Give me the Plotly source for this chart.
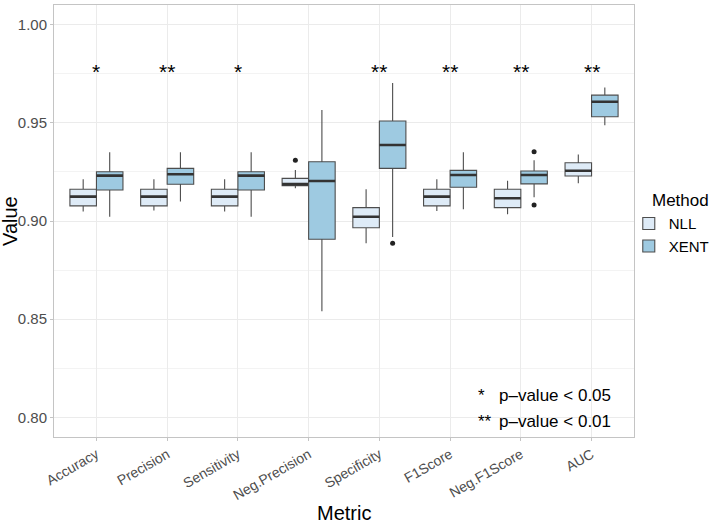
import numpy as np
import plotly.graph_objects as go

categories = ['Accuracy', 'Precision', 'Sensitivity', 'Neg.Precision',
              'Specificity', 'F1Score', 'Neg.F1Score', 'AUC']
significance = ['*', '**', '*', '', '**', '**', '**', '**']

# NLL box statistics
nll_low = [0.9048, 0.9053, 0.9048, 0.9167, 0.8887, 0.9051, 0.9035, 0.9192]
nll_q1 = [0.9077, 0.9077, 0.9077, 0.9180, 0.8966, 0.9077, 0.9068, 0.9229]
nll_med = [0.9124, 0.9124, 0.9124, 0.9188, 0.9022, 0.9124, 0.9116, 0.9256]
nll_q3 = [0.9162, 0.9162, 0.9162, 0.9217, 0.9068, 0.9162, 0.9162, 0.9297]
nll_high = [0.9212, 0.9212, 0.9212, 0.9260, 0.9162, 0.9212, 0.9205, 0.9339]
nll_out_cat = ['Neg.Precision']
nll_out_val = [0.9309]

# XENT box statistics
xent_low = [0.9022, 0.9099, 0.9022, 0.8540, 0.8918, 0.9060, 0.9121, 0.9487]
xent_q1 = [0.9158, 0.9187, 0.9158, 0.8907, 0.9268, 0.9172, 0.9189, 0.9531]
xent_med = [0.9231, 0.9238, 0.9231, 0.9204, 0.9387, 0.9234, 0.9234, 0.9607]
xent_q3 = [0.9251, 0.9268, 0.9251, 0.9302, 0.9509, 0.9258, 0.9255, 0.9641]
xent_high = [0.9350, 0.9350, 0.9350, 0.9565, 0.9703, 0.9350, 0.9310, 0.9680]
xent_out_cat = ['Specificity', 'Neg.F1Score', 'Neg.F1Score']
xent_out_val = [0.8887, 0.9353, 0.9082]

note_symbols = ['*', '**']
note_texts = ['p\u2013value < 0.05', 'p\u2013value < 0.01']
note_y = [0.811, 0.798]

FONT = 'Liberation Sans, Arial, Helvetica, sans-serif'
pos = np.arange(len(categories))
idx = {c: i for i, c in enumerate(categories)}
bw = 0.375
edge = '#4D4D4D'
mid = '#333333'

fig = go.Figure()

def add_group(name, xs, low, q1, med, q3, high, fill, ocat, oval, shift):
    fig.add_trace(go.Box(
        x=xs, q1=q1, median=med, q3=q3, lowerfence=low, upperfence=high,
        width=bw, fillcolor=fill, line=dict(color=edge, width=1.1),
        whiskerwidth=0, name=name, boxpoints=False, hoverinfo='skip'))
    # thick median line
    fig.add_trace(go.Box(
        x=xs, q1=med, median=med, q3=med, lowerfence=med, upperfence=med,
        width=bw, fillcolor='rgba(0,0,0,0)', line=dict(color=mid, width=2.6),
        whiskerwidth=0, showlegend=False, boxpoints=False, hoverinfo='skip'))
    fig.add_trace(go.Scatter(
        x=[idx[c] + shift for c in ocat], y=oval, mode='markers',
        marker=dict(color='#222222', size=5), showlegend=False,
        hoverinfo='skip'))

add_group('NLL', pos - bw / 2, nll_low, nll_q1, nll_med, nll_q3, nll_high,
          '#DEEBF7', nll_out_cat, nll_out_val, -bw / 2)
add_group('XENT', pos + bw / 2, xent_low, xent_q1, xent_med, xent_q3, xent_high,
          '#9ECAE1', xent_out_cat, xent_out_val, bw / 2)

annotations = []
for i, s in enumerate(significance):
    if s:
        annotations.append(dict(x=i, y=0.976, xref='x', yref='y', text=s,
                                showarrow=False, font=dict(size=21, color='black', family=FONT),
                                xanchor='center', yanchor='middle'))
for sym, txt, yv in zip(note_symbols, note_texts, note_y):
    annotations.append(dict(x=5.37, y=yv, xref='x', yref='y', text=sym,
                            showarrow=False, font=dict(size=17, color='black', family=FONT),
                            xanchor='left', yanchor='middle'))
    annotations.append(dict(x=5.66, y=yv, xref='x', yref='y', text=txt,
                            showarrow=False, font=dict(size=17, color='black', family=FONT),
                            xanchor='left', yanchor='middle'))

# axis titles and legend title
annotations.append(dict(x=-0.076, y=0.5, xref='paper', yref='paper', text='Value',
                        textangle=-90, showarrow=False,
                        font=dict(size=20, color='black', family=FONT),
                        xanchor='center', yanchor='middle'))
annotations.append(dict(x=0.5, y=-0.176, xref='paper', yref='paper', text='Metric',
                        showarrow=False, font=dict(size=20, color='black', family=FONT),
                        xanchor='center', yanchor='middle'))
annotations.append(dict(x=1.027, y=0.548, xref='paper', yref='paper', text='Method',
                        showarrow=False, font=dict(size=17, color='black', family=FONT),
                        xanchor='left', yanchor='middle'))

fig.update_layout(
    width=714, height=524,
    margin=dict(l=54, r=80, t=5, b=87, autoexpand=False),
    plot_bgcolor='white', paper_bgcolor='white',
    font=dict(family=FONT, color='black'),
    boxmode='overlay',
    annotations=annotations,
    legend=dict(font=dict(size=15), x=0.991, xanchor='left',
                y=0.468, yanchor='middle', traceorder='normal',
                bgcolor='rgba(0,0,0,0)'),
    xaxis=dict(range=[-0.6, 7.6], tickmode='array', tickvals=pos,
               ticktext=categories, tickangle=-30, automargin=False,
               tickfont=dict(size=14, color='#4D4D4D'),
               showgrid=True, gridcolor='#EBEBEB', gridwidth=1,
               zeroline=False, showline=True, linecolor='#C4C4C4', mirror=True,
               ticks='outside', ticklen=3, tickcolor='#C4C4C4'),
    yaxis=dict(range=[0.79, 1.01], tickmode='array', automargin=False,
               tickvals=[0.80, 0.85, 0.90, 0.95, 1.00],
               ticktext=['0.80', '0.85', '0.90', '0.95', '1.00'],
               tickfont=dict(size=15, color='#4D4D4D'),
               showgrid=True, gridcolor='#EBEBEB', gridwidth=1,
               minor=dict(tickmode='array', tickvals=[0.825, 0.875, 0.925, 0.975],
                          showgrid=True, gridcolor='#F3F3F3', gridwidth=1),
               zeroline=False, showline=True, linecolor='#C4C4C4', mirror=True,
               ticks='outside', ticklen=3, tickcolor='#C4C4C4'),
)

fig.write_html('out.html', config={'displayModeBar': False},
               post_script="document.body.style.margin='0px';")
